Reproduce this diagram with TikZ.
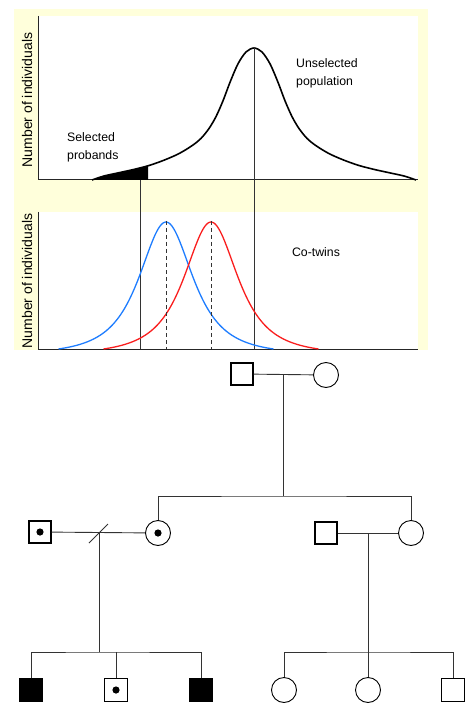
\documentclass[tikz,border=0pt]{standalone}
\usepackage{fontspec}
\setmainfont{Liberation Sans}
\definecolor{bgyellow}{RGB}{255,255,219}
\definecolor{cblue}{RGB}{30,125,255}
\definecolor{cred}{RGB}{250,30,30}
\begin{document}
\begin{tikzpicture}[x=1pt,y=-1pt,
  declare function={
    bt(\d)=max(0,(1/((1+(\d/41.23)^2)*sqrt(1+(\d/41.23)^2))-0.0459)/0.9541);
  },
  lbl/.style={font=\fontsize{12.3}{18}\selectfont, inner sep=0pt},
  axlbl/.style={font=\fontsize{14}{16}\selectfont, inner sep=0pt, rotate=90},
  axisline/.style={line width=1pt, black!85},
  guide/.style={line width=0.9pt, black!80},
  male/.style={draw, rectangle, minimum size=22pt, inner sep=0pt, line width=1.1pt},
  female/.style={draw, circle, minimum size=25pt, inner sep=0pt, line width=0.9pt},
  affected/.style={fill=black},
  carrier/.style={path picture={\fill (path picture bounding box.center) circle (3.6pt);}},
  link/.style={line width=0.9pt, black!80}
]
\useasboundingbox (0,0) rectangle (471,708);
% backgrounds
\fill[bgyellow] (14,9) rectangle (428,350);
\fill[white] (38,16) rectangle (418,180);
\fill[white] (38,212) rectangle (418,349);
% axes
\draw[axisline] (38,16) -- (38,180) -- (418,180);
\draw[axisline] (38,212) -- (38,349) -- (418,349);
\node[axlbl] (ylab1) at (27,100) {Number of individuals};
\node[axlbl] (ylab2) at (27,281) {Number of individuals};
% top curve: shaded tail
\begin{scope}
\clip (92,0) rectangle (148,181);
\fill[black] plot[smooth] coordinates {(92,180) (104,176.0) (119,172.7) (134,169.4) (149,165.5) (164,160.2) (179,153.6) (192,145.7) (201,138.4) (209,128.5) (216,116.6) (223,100.8) (230,82.3) (238,63.8) (246,52.0) (254,48) (262,52.0) (270,63.8) (278,82.3) (285,100.8) (292,116.6) (299,128.5) (307,138.4) (316,145.7) (329,153.6) (344,160.2) (359,165.5) (374,169.4) (389,172.7) (404,176.0) (416,180)} -- cycle;
\end{scope}
\draw[line width=1.6pt, black] plot[smooth] coordinates {(92,180) (104,176.0) (119,172.7) (134,169.4) (149,165.5) (164,160.2) (179,153.6) (192,145.7) (201,138.4) (209,128.5) (216,116.6) (223,100.8) (230,82.3) (238,63.8) (246,52.0) (254,48) (262,52.0) (270,63.8) (278,82.3) (285,100.8) (292,116.6) (299,128.5) (307,138.4) (316,145.7) (329,153.6) (344,160.2) (359,165.5) (374,169.4) (389,172.7) (404,176.0) (416,180)};
% guide lines
\draw[guide] (140,180) -- (140,349);
\draw[guide] (254,48) -- (254,349);
% bottom curves
\draw[line width=1.3pt, cblue] plot[domain=-107.5:107.5, samples=161, smooth] ({166+\x},{349-127*bt(\x)});
\draw[line width=1.3pt, cred] plot[domain=-107.5:107.5, samples=161, smooth] ({211+\x},{349-127*bt(\x)});
\draw[guide, dash pattern=on 4pt off 3pt] (166,221) -- (166,349);
\draw[guide, dash pattern=on 4pt off 3pt] (211,221) -- (211,349);
% labels
\node[lbl, align=left, anchor=west] (unsel) at (296,73) {Unselected\\population};
\node[lbl, align=left, anchor=west] (selp) at (67,147) {Selected\\probands};
\node[lbl] (cotw) at (316,252) {Co-twins};
% pedigree generation I
\node[male] (gf) at (242,374) {};
\node[female] (gm) at (326,375) {};
\coordinate (m1) at (283,375);
\coordinate (s1) at (283,496);
\draw[link] (gf) -- (gm);
\draw[link] (m1) -- (s1);
% generation II
\node[male, carrier] (h1) at (40,532) {};
\node[female, carrier] (d1) at (158,533) {};
\node[male] (h2) at (326,533) {};
\node[female] (d2) at (411,533) {};
\draw[link] (d1.north) |- (s1) -| (d2.north);
\draw[link] (h1) -- (d1);
\draw[link] (h2) -- (d2);
\coordinate (m2) at (99,533);
\coordinate (m3) at (368,533);
\draw[link] ([shift={(-10,10)}]m2) -- ([shift={(9,-9)}]m2);
% generation III
\coordinate (s2) at (99,652);
\coordinate (s3) at (368,652);
\node[male, affected, minimum size=23pt] (k1) at (31,690) {};
\node[male, carrier, minimum size=23pt] (k2) at (116,690) {};
\node[male, affected, minimum size=23pt] (k3) at (201,690) {};
\node[female] (k4) at (284,690) {};
\node[female] (k5) at (368,690) {};
\node[male, minimum size=23pt] (k6) at (453,690) {};
\draw[link] (m2) -- (s2);
\draw[link] (k1.north) |- (s2) -| (k3.north);
\draw[link] (k2.north) -- (k2.north |- s2);
\draw[link] (m3) -- (s3);
\draw[link] (k4.north) |- (s3) -| (k6.north);
\draw[link] (s3) -- (k5.north);
\end{tikzpicture}
\end{document}
